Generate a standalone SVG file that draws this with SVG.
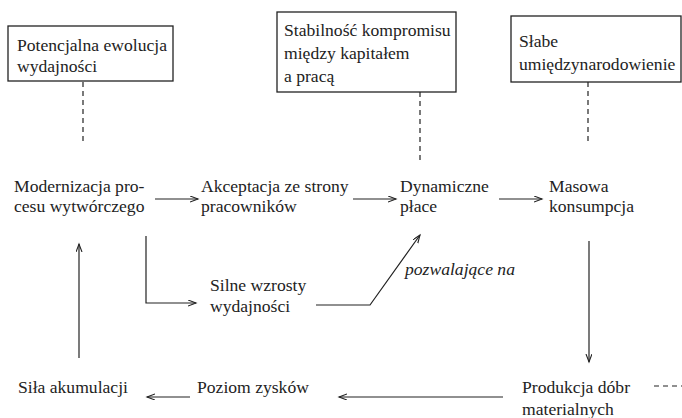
<svg xmlns="http://www.w3.org/2000/svg" width="682" height="418" viewBox="0 0 682 418">
<style>
text{font-family:"Liberation Serif","Times New Roman",serif;font-size:17.6px;fill:#222}
.it{font-style:italic}
.box{fill:#fff;stroke:#222;stroke-width:1.3}
.ln{fill:none;stroke:#222;stroke-width:1.2}
.dash{fill:none;stroke:#222;stroke-width:1.2;stroke-dasharray:5,4}
</style>
<defs>
<marker id="ah" markerWidth="10" markerHeight="8" refX="8" refY="3" orient="auto" markerUnits="userSpaceOnUse">
<path d="M0,0 L8,3 L0,6" fill="none" stroke="#222" stroke-width="1.1"/>
</marker>
</defs>
<rect width="682" height="418" fill="#fff"/>
<g id="connectors">
<line class="dash" x1="83" y1="82" x2="83" y2="141"/>
<line class="dash" x1="420" y1="92" x2="420" y2="162"/>
<line class="dash" x1="588" y1="82" x2="588" y2="141"/>
<line class="dash" x1="654" y1="386" x2="682" y2="386"/>
<line class="ln" x1="155" y1="199" x2="198" y2="199" marker-end="url(#ah)"/>
<line class="ln" x1="353" y1="199" x2="396" y2="199" marker-end="url(#ah)"/>
<line class="ln" x1="499" y1="199" x2="542" y2="199" marker-end="url(#ah)"/>
<polyline class="ln" points="146,236 146,303 196,303" marker-end="url(#ah)"/>
<polyline class="ln" points="316,305 370,305 420,235" marker-end="url(#ah)"/>
<line class="ln" x1="79" y1="358" x2="79" y2="244" marker-end="url(#ah)"/>
<line class="ln" x1="589" y1="241" x2="589" y2="362" marker-end="url(#ah)"/>
<line class="ln" x1="503" y1="397" x2="339" y2="397" marker-end="url(#ah)"/>
<line class="ln" x1="190" y1="397" x2="147" y2="397" marker-end="url(#ah)"/>
<text class="it" x="405" y="275">pozwalające na</text>
</g>
<g id="box-potencjalna">
<rect class="box" x="8" y="26" width="165" height="55"/>
<text x="17" y="51">Potencjalna ewolucja</text>
<text x="17" y="72">wydajności</text>
</g>
<g id="box-stabilnosc">
<rect class="box" x="277" y="12" width="179" height="80"/>
<text x="284" y="36">Stabilność kompromisu</text>
<text x="284" y="59">między kapitałem</text>
<text x="284" y="82">a pracą</text>
</g>
<g id="box-slabe">
<rect class="box" x="511" y="16" width="170" height="66"/>
<text x="519" y="47">Słabe</text>
<text x="519" y="70">umiędzynarodowienie</text>
</g>
<g id="modernizacja">
<text x="14" y="192">Modernizacja pro-</text>
<text x="14" y="212">cesu wytwórczego</text>
</g>
<g id="akceptacja">
<text x="201" y="192">Akceptacja ze strony</text>
<text x="201" y="212">pracowników</text>
</g>
<g id="dynamiczne">
<text x="400" y="192">Dynamiczne</text>
<text x="400" y="212">płace</text>
</g>
<g id="masowa">
<text x="549" y="192">Masowa</text>
<text x="549" y="212">konsumpcja</text>
</g>
<g id="silne">
<text x="210" y="291">Silne wzrosty</text>
<text x="210" y="312">wydajności</text>
</g>
<g id="sila">
<text x="18" y="393">Siła akumulacji</text>
</g>
<g id="poziom">
<text x="197" y="393">Poziom zysków</text>
</g>
<g id="produkcja">
<text x="522" y="393">Produkcja dóbr</text>
<text x="522" y="415">materialnych</text>
</g>
</svg>
